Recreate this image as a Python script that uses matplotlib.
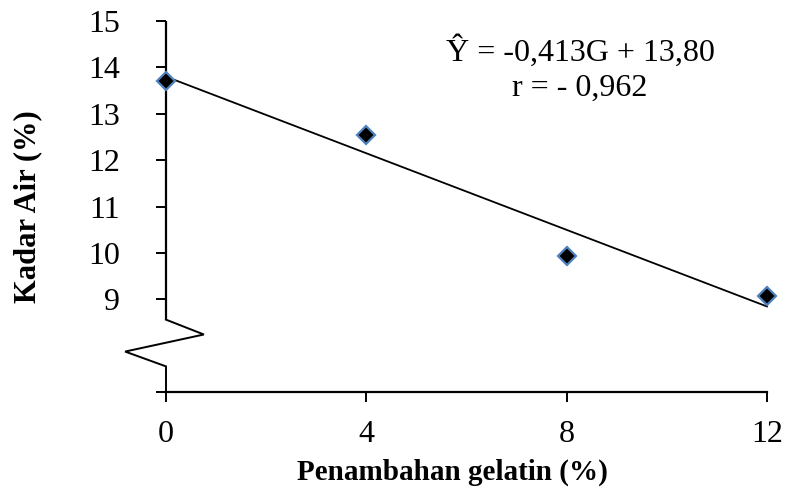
import matplotlib
matplotlib.use("Agg")
import matplotlib.pyplot as plt
import numpy as np

plt.rcParams['font.family'] = ['Liberation Serif', 'DejaVu Serif']

# data
gelatin = [0, 4, 8, 12]
kadar_air = [13.70, 12.55, 9.93, 9.07]
slope = -0.413
intercept = 13.80
eq_text = "Ŷ = -0,413G + 13,80"
r_text = "r = - 0,962"
xticks = [0, 4, 8, 12]
yticks = [7, 9, 10, 11, 12, 13, 14, 15]
yticklabels = ["", "9", "10", "11", "12", "13", "14", "15"]

W, H = 786, 490
fig = plt.figure(figsize=(W / 100, H / 100), dpi=100)
left, right, top, bottom = 166, 767, 21, 392
ax = fig.add_axes([left / W, (H - bottom) / H, (right - left) / W, (bottom - top) / H])

ax.set_xlim(0, 12)
ax.set_ylim(7, 15)

# regression line
xl = np.array([gelatin[0], gelatin[-1]])
ax.plot(xl, slope * xl + intercept, color='black', lw=1.3, zorder=2, clip_on=False)

# points
ax.plot(gelatin, kadar_air, linestyle='none', marker='D', ms=9.2,
        mfc='black', mec='#4F81BD', mew=1.6, zorder=3, clip_on=False)

# spines
for s in ['top', 'right', 'left']:
    ax.spines[s].set_visible(False)
ax.spines['bottom'].set_linewidth(1.6)

# broken y-axis drawn manually
tr = ax.transAxes
ax.plot([0, 0], [1, 0.195], color='black', lw=1.6, transform=tr, clip_on=False,
        solid_capstyle='butt')
ax.plot([0, 0.063, -0.068, 0, 0], [0.195, 0.155, 0.109, 0.069, 0],
        color='black', lw=1.4, transform=tr, clip_on=False, solid_joinstyle='miter')

ax.set_xticks(xticks)
ax.set_xticklabels([str(t) for t in xticks])
ax.set_yticks(yticks)
ax.set_yticklabels(yticklabels)
ax.tick_params(axis='both', direction='out', width=1.4, labelsize=23, colors='black')
ax.tick_params(axis='y', length=7, pad=26)
ax.tick_params(axis='x', length=7, pad=13)

ax.set_xlabel("Penambahan gelatin (%)", fontsize=21, fontweight='bold')
ax.set_ylabel("Kadar Air (%)", fontsize=22, fontweight='bold')
ax.xaxis.set_label_coords((452 - left) / (right - left), -(459 - bottom) / (bottom - top))
ax.yaxis.set_label_coords(-(left - 42) / (right - left), 0.5)

ax.text(0.689, 0.918, eq_text, transform=tr, ha='center', va='center', fontsize=23)
ax.text(0.689, 0.818, r_text, transform=tr, ha='center', va='center', fontsize=23)

fig.savefig("out.png", dpi=100)
